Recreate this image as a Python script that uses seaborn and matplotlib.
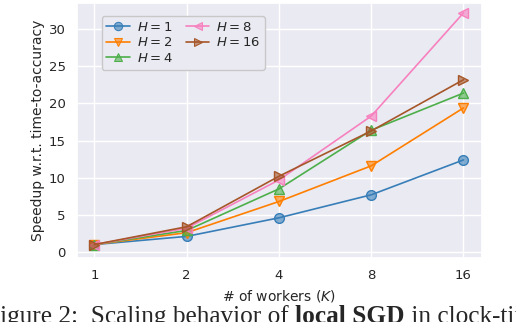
import numpy as np
import pandas as pd
import matplotlib
matplotlib.use("Agg")
import matplotlib.pyplot as plt
import matplotlib.colors as mcolors
import seaborn as sns

# data
workers = [1, 2, 4, 8, 16]
h_values = [1, 2, 4, 8, 16]
speedup_h1 = [1.0, 2.1, 4.6, 7.7, 12.4]
speedup_h2 = [1.0, 2.6, 6.8, 11.6, 19.4]
speedup_h4 = [1.0, 2.9, 8.5, 16.4, 21.4]
speedup_h8 = [1.0, 3.2, 9.7, 18.3, 32.2]
speedup_h16 = [1.0, 3.4, 10.2, 16.3, 23.2]
tick_labels = ["1", "2", "4", "8", "16"]

all_speedups = [speedup_h1, speedup_h2, speedup_h4, speedup_h8, speedup_h16]
rows = []
for h, vals in zip(h_values, all_speedups):
    for k, v in zip(workers, vals):
        rows.append({"K": k, "speedup": v, "H": f"$H={h}$"})
df = pd.DataFrame(rows)

sns.set_theme(style="darkgrid")
plt.rcParams["font.family"] = ["DejaVu Sans"]

colors = ["#377eb8", "#ff7f00", "#4daf4a", "#f781bf", "#a65628"]
markers = ["o", "v", "^", "<", ">"]
hue_order = [f"$H={h}$" for h in h_values]

fig = plt.figure(figsize=(5.16, 3.22), dpi=100)
ax = fig.add_axes([0.149, 0.199, 0.785, 0.791])

sns.lineplot(data=df, x="K", y="speedup", hue="H", style="H",
             hue_order=hue_order, style_order=hue_order,
             palette=colors, markers=markers, dashes=False,
             markersize=7, linewidth=1.2, ax=ax)

for line, c in zip(ax.lines, colors):
    line.set_markerfacecolor(mcolors.to_rgba(c, 0.6))
    line.set_markeredgecolor(c)
    line.set_markeredgewidth(1.0)

ax.set_xscale("log", base=2)
ax.set_xticks(workers)
ax.set_xticklabels(tick_labels)
ax.minorticks_off()
ax.set_xlim(2 ** -0.19, 2 ** 4.2)
ax.set_ylim(-0.8, 33.5)
ax.set_yticks([0, 5, 10, 15, 20, 25, 30])
ax.tick_params(labelsize=9.5, pad=2)
ax.set_xlabel("# of workers ($K$)", fontsize=10)
ax.set_ylabel("Speedup w.r.t. time-to-accuracy", fontsize=10, labelpad=3)

handles, labels = ax.get_legend_handles_labels()
for hdl, c in zip(handles, colors):
    hdl.set_markerfacecolor(mcolors.to_rgba(c, 0.6))
    hdl.set_markeredgecolor(c)
    hdl.set_markersize(6)
leg = ax.legend(handles, labels, loc="upper left", ncol=2, fontsize=9.5,
                frameon=True, shadow=False, bbox_to_anchor=(0.045, 0.975),
                handlelength=1.8, handletextpad=0.5, columnspacing=1.0,
                labelspacing=0.2, borderpad=0.35, framealpha=1.0)
leg.get_frame().set_facecolor("#eaeaf2")
leg.get_frame().set_edgecolor("#c8c8c8")
leg.get_frame().set_linewidth(1.0)

# caption of the paper figure, cut by the bottom edge
cap_y = -0.002
serif = ["Liberation Serif", "DejaVu Serif"]
t1 = fig.text(-0.027, cap_y, "Figure 2:  Scaling behavior of ", fontsize=18.2,
              family=serif, va="baseline")
fig.canvas.draw()
r = fig.canvas.get_renderer()
x = t1.get_window_extent(r).x1 / fig.bbox.width
t2 = fig.text(x, cap_y, "local SGD", fontsize=18.2, family=serif,
              weight="bold", va="baseline")
fig.canvas.draw()
x = t2.get_window_extent(r).x1 / fig.bbox.width
fig.text(x, cap_y, " in clock-time", fontsize=18.2, family=serif, va="baseline")

fig.savefig("out.png", dpi=100)
